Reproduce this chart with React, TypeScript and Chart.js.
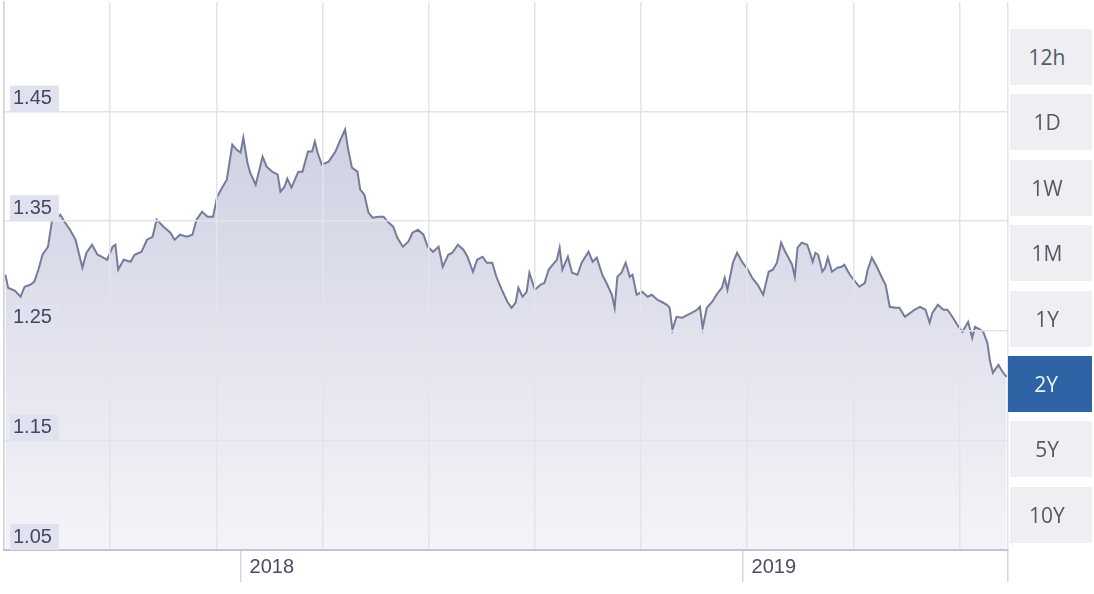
import React, { useEffect, useRef } from 'react';
import { Chart, registerables } from 'chart.js';

Chart.register(...registerables);

// Days since 2017-07-13 (two-year window)
const dayOffsets = [
  1, 3, 8, 12, 15, 19, 22, 25, 28, 32, 35, 37, 41, 44, 48, 52, 57, 60, 64, 68,
  71, 75, 79, 81, 83, 87, 92, 95, 100, 104, 108, 111, 116, 121, 124, 128, 133, 137, 140, 144,
  148, 152, 155, 159, 162, 166, 169, 172, 174, 177, 179, 183, 188, 191, 195, 199, 201, 204, 206, 209,
  214, 217, 221, 224, 226, 228, 231, 236, 238, 241, 244, 248, 250, 253, 257, 259, 262, 265, 268, 272,
  276, 279, 283, 286, 290, 294, 297, 301, 305, 308, 312, 316, 319, 323, 326, 330, 334, 337, 341, 344,
  348, 351, 355, 358, 362, 366, 369, 372, 374, 377, 380, 382, 386, 390, 393, 396, 399, 402, 404, 406,
  410, 413, 417, 420, 425, 428, 431, 435, 438, 442, 444, 446, 449, 452, 455, 457, 460, 464, 468, 471,
  475, 478, 482, 484, 486, 489, 493, 497, 500, 504, 506, 508, 511, 515, 518, 522, 524, 526, 530, 533,
  537, 540, 544, 548, 552, 556, 559, 562, 565, 568, 570, 573, 575, 577, 580, 584, 586, 588, 590, 592,
  595, 597, 599, 602, 606, 609, 611, 615, 619, 622, 626, 628, 631, 635, 638, 641, 644, 648, 651, 655,
  659, 662, 666, 670, 673, 675, 679, 683, 686, 690, 694, 697, 701, 704, 706, 710, 712, 715, 717, 719,
  723, 726, 729,
];

const rates = [
  1.3011, 1.2893, 1.2865, 1.2811, 1.2902, 1.2920, 1.2947, 1.3057, 1.3194, 1.3267, 1.3514, 1.3514, 1.3559, 1.3495, 1.3422, 1.3331, 1.3075, 1.3212, 1.3285, 1.3194,
  1.3176, 1.3148, 1.3267, 1.3285, 1.3057, 1.3148, 1.3130, 1.3194, 1.3221, 1.3331, 1.3358, 1.3514, 1.3450, 1.3395, 1.3331, 1.3377, 1.3358, 1.3377, 1.3514, 1.3587,
  1.3541, 1.3541, 1.3724, 1.3815, 1.3879, 1.4199, 1.4153, 1.4126, 1.4263, 1.4034, 1.3943, 1.3833, 1.4089, 1.3998, 1.3952, 1.3925, 1.3769, 1.3815, 1.3888, 1.3806,
  1.3952, 1.3952, 1.4135, 1.4135, 1.4226, 1.4126, 1.4016, 1.4043, 1.4080, 1.4135, 1.4226, 1.4336, 1.4171, 1.3989, 1.3952, 1.3788, 1.3742, 1.3578, 1.3532, 1.3541,
  1.3541, 1.3495, 1.3450, 1.3349, 1.3267, 1.3313, 1.3395, 1.3422, 1.3377, 1.3267, 1.3221, 1.3267, 1.3084, 1.3194, 1.3212, 1.3285, 1.3240, 1.3176, 1.3039, 1.3148,
  1.3176, 1.3121, 1.3121, 1.2993, 1.2874, 1.2765, 1.2710, 1.2756, 1.2893, 1.2811, 1.2856, 1.3030, 1.2874, 1.2920, 1.2938, 1.3057, 1.3103, 1.3148, 1.3258, 1.3057,
  1.3176, 1.3030, 1.3011, 1.3121, 1.3221, 1.3130, 1.3167, 1.3011, 1.2938, 1.2829, 1.2710, 1.2993, 1.3030, 1.3121, 1.2993, 1.3011, 1.2829, 1.2856, 1.2811, 1.2829,
  1.2783, 1.2765, 1.2737, 1.2710, 1.2509, 1.2628, 1.2619, 1.2646, 1.2664, 1.2692, 1.2719, 1.2527, 1.2710, 1.2765, 1.2829, 1.2893, 1.2984, 1.2874, 1.3121, 1.3212,
  1.3121, 1.3075, 1.2984, 1.2920, 1.2829, 1.3039, 1.3057, 1.3121, 1.3304, 1.3221, 1.3176, 1.3103, 1.2993, 1.3258, 1.3304, 1.3285, 1.3212, 1.3130, 1.3212, 1.3194,
  1.3039, 1.3075, 1.3167, 1.3039, 1.3075, 1.3084, 1.3103, 1.3011, 1.2947, 1.2902, 1.2938, 1.3057, 1.3167, 1.3075, 1.2993, 1.2920, 1.2719, 1.2710, 1.2710, 1.2628,
  1.2664, 1.2692, 1.2719, 1.2692, 1.2573, 1.2664, 1.2737, 1.2692, 1.2692, 1.2619, 1.2537, 1.2491, 1.2582, 1.2436, 1.2537, 1.2509, 1.2491, 1.2390, 1.2217, 1.2116,
  1.2189, 1.2126, 1.2080,
];

const yTickValues = [1.05, 1.15, 1.25, 1.35, 1.45];
const xTickDays = [172, 537, 730];
const xTickLabels = ['2018', '2019', ''];
const totalDays = 730;
const gridStepDays = 77.2;
const rangeButtons = ['12h', '1D', '1W', '1M', '1Y', '2Y', '5Y', '10Y'];
const activeRange = '2Y';

export default function App() {
  const ref = useRef<HTMLCanvasElement>(null);

  useEffect(() => {
    document.body.style.margin = '0';
    const canvas = ref.current!;
    const chart = new Chart(canvas, {
      type: 'line',
      data: {
        datasets: [
          {
            data: dayOffsets.map((d, i) => ({ x: d, y: rates[i] })),
            borderColor: '#767b9c',
            borderWidth: 2,
            pointRadius: 0,
            tension: 0,
            fill: 'start',
            xAxisID: 'x',
            yAxisID: 'y',
            backgroundColor: (ctx: any) => {
              const { chart: ch } = ctx;
              const area = ch.chartArea;
              if (!area) return 'rgba(205,208,224,0.8)';
              const g = ch.ctx.createLinearGradient(0, area.top, 0, area.bottom);
              g.addColorStop(0, 'rgb(198,201,220)');
              g.addColorStop(0.3, 'rgb(210,212,228)');
              g.addColorStop(1, 'rgb(244,244,248)');
              return g;
            },
          },
        ],
      },
      options: {
        animation: false,
        responsive: false,
        devicePixelRatio: 1,
        layout: { padding: { top: 2, right: 86, left: 0, bottom: 0 } },
        plugins: { legend: { display: false }, tooltip: { enabled: false } },
        scales: {
          x: {
            type: 'linear',
            position: 'bottom',
            min: 0,
            max: totalDays,
            afterBuildTicks: (s: any) => {
              s.ticks = xTickDays.map((v) => ({ value: v }));
            },
            afterFit: (s: any) => {
              s.height = 44;
              s.paddingLeft = 0;
              s.paddingRight = 0;
            },
            grid: {
              drawOnChartArea: false,
              drawTicks: true,
              tickLength: 32,
              color: '#d6d7dd',
              lineWidth: 1.5,
            },
            border: { display: true, color: '#c3c5cd', width: 2, z: 2 },
            ticks: {
              autoSkip: false,
              maxRotation: 0,
              align: 'start',
              labelOffset: 9,
              padding: -27,
              color: '#4a4d63',
              font: { family: 'Liberation Sans, Arial, sans-serif', size: 20 },
              callback: (v: any) => {
                const i = xTickDays.indexOf(Number(v));
                return i >= 0 ? xTickLabels[i] : '';
              },
            },
          },
          xg: {
            type: 'linear',
            position: 'top',
            min: 0,
            max: totalDays,
            afterFit: (s: any) => {
              s.height = 0;
              s.paddingLeft = 0;
              s.paddingRight = 0;
            },
            ticks: { display: false, stepSize: gridStepDays },
            grid: { drawTicks: false, color: '#e3e4ea', lineWidth: 1.5, z: 1 },
            border: { display: false },
          },
          y: {
            type: 'linear',
            position: 'left',
            min: 1.05,
            max: 1.55,
            afterBuildTicks: (s: any) => {
              s.ticks = yTickValues.map((v) => ({ value: v }));
            },
            afterFit: (s: any) => {
              s.width = 4;
              s.paddingTop = 0;
              s.paddingBottom = 0;
            },
            grid: { drawTicks: false, color: '#e3e4ea', lineWidth: 1.5, z: 1 },
            border: { display: true, color: '#d2d3da', width: 1.5, z: 1 },
            ticks: {
              z: 2,
              autoSkip: false,
              mirror: true,
              padding: 9,
              labelOffset: -13,
              showLabelBackdrop: true,
              backdropColor: '#e1e2ef',
              backdropPadding: { top: 1, bottom: 1, left: 3, right: 7 },
              color: '#45485d',
              font: { family: 'Liberation Sans, Arial, sans-serif', size: 20 },
              callback: (v: any) => Number(v).toFixed(2),
            },
          },
        },
      } as any,
    });
    return () => chart.destroy();
  }, []);

  return (
    <div style={{ position: 'relative', width: 1094, height: 594, background: '#ffffff', overflow: 'hidden' }}>
      <canvas ref={ref} width={1094} height={594} style={{ position: 'absolute', left: 0, top: 0 }} />
      {rangeButtons.map((label, i) => {
        const active = label === activeRange;
        return (
          <div
            key={label}
            style={{
              position: 'absolute',
              left: active ? 1008 : 1010,
              top: 29 + i * 65.4,
              width: active ? 84 : 82,
              height: 56,
              boxSizing: 'border-box',
              paddingRight: 8,
              background: active ? '#2e63a6' : '#efeff3',
              color: active ? '#eef3fa' : '#555964',
              fontFamily: '"Open Sans", sans-serif',
              fontSize: 21,
              display: 'flex',
              alignItems: 'center',
              justifyContent: 'center',
            }}
          >
            {label}
          </div>
        );
      })}
    </div>
  );
}
